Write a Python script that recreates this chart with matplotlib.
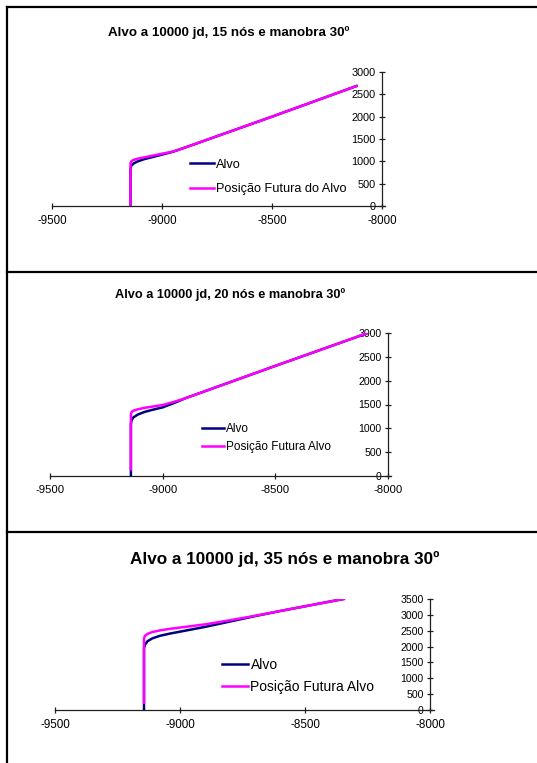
import matplotlib
matplotlib.use('Agg')
import matplotlib.pyplot as plt
from matplotlib.lines import Line2D

plt.rcParams['font.family'] = ['Liberation Sans', 'DejaVu Sans']
plt.rcParams['axes.unicode_minus'] = False

W, H = 537, 763

# 15 nos
alvo1_x = [-9143, -9143, -9140, -9130, -9110, -9080, -9040, -9000, -8950, -8900, -8500, -8116]
alvo1_y = [0, 840, 900, 950, 1000, 1050, 1100, 1150, 1215, 1300, 2000, 2686]
fut1_x = [-9143, -9143, -9140, -9130, -9110, -9080, -9040, -9000, -8950, -8900, -8500, -8116]
fut1_y = [0, 955, 1000, 1030, 1060, 1090, 1130, 1170, 1220, 1300, 2000, 2686]

# 20 nos
alvo2_x = [-9141, -9141, -9138, -9130, -9110, -9080, -9040, -9000, -8950, -8900, -8500, -8095]
alvo2_y = [0, 1090, 1170, 1230, 1290, 1345, 1395, 1440, 1530, 1630, 2310, 2990]
fut2_x = [-9141, -9141, -9138, -9130, -9110, -9080, -9040, -9000, -8950, -8900, -8500, -8095]
fut2_y = [140, 1290, 1340, 1370, 1400, 1430, 1460, 1490, 1555, 1630, 2310, 2990]

# 35 nos
alvo3_x = [-9144, -9144, -9140, -9130, -9110, -9080, -9040, -9000, -8900, -8800, -8700, -8600, -8500, -8400, -8345]
alvo3_y = [0, 1950, 2060, 2170, 2260, 2340, 2410, 2470, 2620, 2790, 2960, 3120, 3270, 3420, 3500]
fut3_x = [-9144, -9144, -9140, -9130, -9110, -9080, -9040, -9000, -8900, -8800, -8700, -8600, -8500, -8400, -8345]
fut3_y = [230, 2260, 2340, 2400, 2460, 2510, 2560, 2600, 2700, 2830, 2970, 3120, 3270, 3420, 3500]

titles = ['Alvo a 10000 jd, 15 nós e manobra 30º',
          'Alvo a 10000 jd, 20 nós e manobra 30º',
          'Alvo a 10000 jd, 35 nós e manobra 30º']
legend_labels = [('Alvo', 'Posição Futura do Alvo'),
                 ('Alvo', 'Posição Futura Alvo'),
                 ('Alvo', 'Posição Futura Alvo')]
xticks = [-9500, -9000, -8500, -8000]
yticks = [list(range(0, 3001, 500)), list(range(0, 3001, 500)), list(range(0, 3501, 500))]
ymax = [3000, 3000, 3500]

series = [(alvo1_x, alvo1_y, fut1_x, fut1_y),
          (alvo2_x, alvo2_y, fut2_x, fut2_y),
          (alvo3_x, alvo3_y, fut3_x, fut3_y)]

# layout in pixels: left, right, x-axis row, top row
boxes = [(52, 382, 206, 72), (50, 388, 476, 333), (55, 430, 710, 599)]
title_pos = [(229, 33, 9.6), (230, 295, 9.2), (285, 559, 12.3)]
tick_fs = [(8.3, 7.8), (8.2, 7.6), (8.4, 7.6)]
leg_pos = [(190, 177, 9.2, 0.95), (202, 438, 8.5, 0.45), (222, 676, 10.0, 0.55)]

fig = plt.figure(figsize=(W / 100, H / 100), dpi=100)

for i in range(3):
    l, r, b, t = boxes[i]
    ax = fig.add_axes([l / W, 1 - b / H, (r - l) / W, (b - t) / H])
    ax.patch.set_visible(False)
    ax_x, ax_y, fx, fy = series[i]
    ax.plot(ax_x, ax_y, color='#000080', lw=1.8, label=legend_labels[i][0])
    ax.plot(fx, fy, color='#FF00FF', lw=1.8, label=legend_labels[i][1])
    ax.set_xlim(-9500, -8000)
    ax.set_ylim(0, ymax[i])
    ax.spines['left'].set_position(('data', -8000))
    ax.spines['bottom'].set_position(('data', 0))
    ax.spines['right'].set_visible(False)
    ax.spines['top'].set_visible(False)
    for s in ('left', 'bottom'):
        ax.spines[s].set_color('#202020')
        ax.spines[s].set_linewidth(0.9)
    ax.spines['bottom'].set_bounds(-9500, -7985)
    ax.set_xticks(xticks)
    ax.set_yticks(yticks[i])
    ax.tick_params(axis='x', direction='inout', length=5, width=0.9, labelsize=tick_fs[i][0], pad=4, colors='#202020')
    ax.tick_params(axis='y', direction='inout', length=5, width=0.9, labelsize=tick_fs[i][1], pad=2, colors='#202020')
    for lab in ax.get_xticklabels() + ax.get_yticklabels():
        lab.set_color('black')

    tx, ty, tfs = title_pos[i]
    fig.text(tx / W, 1 - ty / H, titles[i], ha='center', va='center', fontsize=tfs, fontweight='bold')

    lx, ly, lfs, lsp = leg_pos[i]
    ax.legend(loc='center left', bbox_to_anchor=(lx / W, 1 - ly / H), bbox_transform=fig.transFigure,
              frameon=False, borderpad=0, borderaxespad=0, fontsize=lfs,
              handlelength=1.9, handletextpad=0.15, labelspacing=lsp)

# panel frames
lw = 1.6
fig.add_artist(Line2D([7 / W, 7 / W], [0, 1 - 7 / H], color='black', lw=lw, transform=fig.transFigure))
for yy in (7, 272, 532):
    fig.add_artist(Line2D([7 / W, 1], [1 - yy / H, 1 - yy / H], color='black', lw=lw, transform=fig.transFigure))

fig.savefig('out.png', dpi=100)
